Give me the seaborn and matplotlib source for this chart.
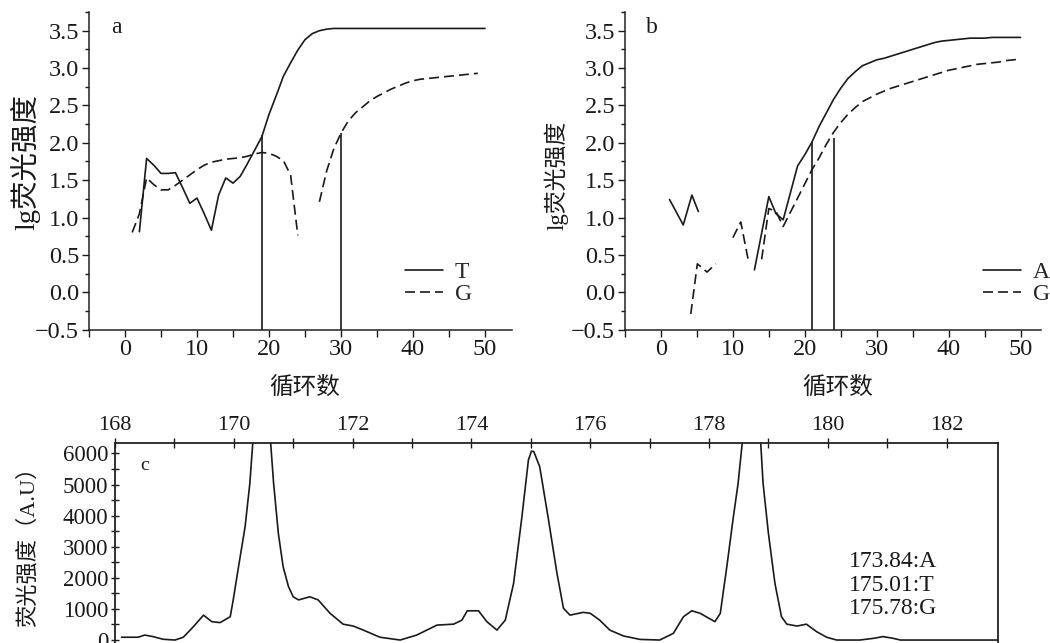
import numpy as np
import pandas as pd
import matplotlib
matplotlib.use("Agg")
import matplotlib.pyplot as plt
import seaborn as sns
from matplotlib.ticker import MultipleLocator

# ---------------- data: panel a ----------------
a_T_cycle = list(range(2, 51))
a_T_val = [0.81, 1.79, 1.70, 1.59, 1.59, 1.60, 1.40, 1.19, 1.26, 1.05,
           0.83, 1.30, 1.53, 1.46, 1.55, 1.72, 1.90, 2.08, 2.38, 2.63,
           2.89, 3.07, 3.24, 3.38, 3.46, 3.50, 3.52, 3.53, 3.53, 3.53,
           3.53, 3.53, 3.53, 3.53, 3.53, 3.53, 3.53, 3.53, 3.53, 3.53,
           3.53, 3.53, 3.53, 3.53, 3.53, 3.53, 3.53, 3.53, 3.53]
a_G1_cycle = list(range(1, 25))
a_G1_val = [0.80, 1.05, 1.53, 1.44, 1.37, 1.37, 1.43, 1.50, 1.57, 1.64,
            1.70, 1.74, 1.76, 1.78, 1.79, 1.80, 1.82, 1.85, 1.87, 1.86,
            1.82, 1.76, 1.57, 0.76]
a_G2_cycle = list(range(27, 50))
a_G2_val = [1.21, 1.62, 1.92, 2.13, 2.29, 2.40, 2.48, 2.56, 2.62, 2.67,
            2.72, 2.76, 2.80, 2.83, 2.85, 2.86, 2.87, 2.88, 2.89, 2.90,
            2.91, 2.92, 2.93]
a_ct_cycle = [19, 30]
a_ct_val = [2.10, 2.13]

# ---------------- data: panel b ----------------
b_A1_cycle = [1.2, 3.1, 4.3, 5.2]
b_A1_val = [1.24, 0.90, 1.30, 1.08]
b_A2_cycle = list(range(13, 51))
b_A2_val = [0.30, 0.79, 1.28, 1.05, 0.97, 1.33, 1.69, 1.84, 2.01, 2.22,
            2.40, 2.58, 2.73, 2.86, 2.95, 3.03, 3.07, 3.11, 3.13, 3.16,
            3.19, 3.22, 3.25, 3.28, 3.31, 3.34, 3.36, 3.37, 3.38, 3.39,
            3.40, 3.40, 3.40, 3.41, 3.41, 3.41, 3.41, 3.41]
b_G1_cycle = [4.15, 5.06, 6.4, 7.65]
b_G1_val = [-0.29, 0.38, 0.27, 0.38]
b_G2_cycle = [10.0, 11.1, 12.1]
b_G2_val = [0.73, 0.94, 0.45]
b_G3_cycle = list(range(14, 51))
b_G3_val = [0.44, 1.12, 1.08, 0.88, 1.07, 1.26, 1.45, 1.64, 1.80, 1.98,
            2.14, 2.27, 2.38, 2.47, 2.55, 2.60, 2.65, 2.69, 2.73, 2.76,
            2.79, 2.82, 2.85, 2.88, 2.91, 2.94, 2.97, 2.99, 3.01, 3.03,
            3.05, 3.06, 3.07, 3.08, 3.10, 3.11, 3.12]
b_ct_cycle = [21, 24]
b_ct_val = [2.01, 2.06]

# ---------------- data: panel c ----------------
c_size = [168.11, 168.39, 168.50, 168.64, 168.81, 169.01, 169.15, 169.32, 169.49, 169.63,
          169.77, 169.94, 169.99, 170.08, 170.19, 170.27, 170.32, 170.40, 170.47, 170.55,
          170.62, 170.67, 170.75, 170.83, 170.92, 171.00, 171.09, 171.28, 171.42, 171.62,
          171.84, 172.01, 172.18, 172.46, 172.80, 173.08, 173.42, 173.70, 173.84, 173.93,
          174.12, 174.26, 174.43, 174.57, 174.71, 174.85, 174.96, 175.01, 175.05, 175.15,
          175.29, 175.44, 175.55, 175.66, 175.88, 176.00, 176.16, 176.33, 176.56, 176.84,
          177.17, 177.40, 177.57, 177.71, 177.85, 178.10, 178.19, 178.30, 178.41, 178.49,
          178.56, 178.64, 178.71, 178.79, 178.87, 178.91, 179.00, 179.11, 179.22, 179.31,
          179.48, 179.64, 179.81, 179.98, 180.15, 180.54, 180.77, 180.93, 181.10, 181.22,
          182.86]
c_signal = [90, 90, 160, 110, 25, 0, 90, 430, 800, 590,
            560, 750, 1290, 2360, 3640, 5040, 6350, 8000, 8600, 8000,
            6350, 5040, 3430, 2360, 1720, 1390, 1290, 1390, 1290, 860,
            510, 450, 320, 90, 0, 160, 480, 510, 640, 940,
            940, 590, 320, 640, 1820, 3960, 5790, 6070, 6060, 5570,
            3960, 2150, 1020, 800, 890, 860, 640, 320, 130, 20,
            0, 215, 750, 940, 860, 590, 860, 2360, 3960, 5040,
            6350, 8000, 8600, 8000, 6350, 5040, 3430, 1820, 750, 510,
            450, 510, 270, 90, 0, 0, 55, 110, 55, 0,
            0]
c_notes = ["173.84:A", "175.01:T", "175.78:G"]

# ---------------- style ----------------
sns.set_theme(style="ticks")
SERIF = ["Liberation Serif", "Noto Sans CJK SC", "DejaVu Sans"]
CJK = ["Noto Sans CJK SC", "DejaVu Sans"]
plt.rcParams["font.family"] = SERIF
plt.rcParams["axes.unicode_minus"] = True
plt.rcParams["lines.dashed_pattern"] = [6.0, 3.0]
plt.rcParams["axes.edgecolor"] = "#222222"

W, H = 1050, 643
fig = plt.figure(figsize=(W / 100, H / 100), dpi=100)


def px_axes(l, t, r, b):
    return fig.add_axes([l / W, 1 - b / H, (r - l) / W, (b - t) / H])


axa = px_axes(89, 12, 512, 329.6)
axb = px_axes(625, 12, 1041, 329.6)
axc = px_axes(115, 442.7, 997.7, 644.7)

LW = 1.2
INK = "#1a1a1a"


def seg_frame(segments):
    rows = []
    for k, (xs, ys) in enumerate(segments):
        for x, y in zip(xs, ys):
            rows.append({"cycle": x, "val": y, "seg": k})
    return pd.DataFrame(rows)


def draw_series(ax, segments, label, dashed):
    df = seg_frame(segments)
    sns.lineplot(data=df, x="cycle", y="val", units="seg", estimator=None,
                 sort=False, color=INK, lw=LW, ls="--" if dashed else "-",
                 label=label, ax=ax)


def style_qpcr(ax, letter, leg_x, ylab_x, ylab_y, ylab_size):
    ax.set_xlim(-5, 53.75 if ax is axa else 52.85)
    ax.set_ylim(-0.5, 3.75)
    ax.xaxis.set_major_locator(MultipleLocator(10))
    ax.xaxis.set_minor_locator(MultipleLocator(5))
    ax.yaxis.set_major_locator(MultipleLocator(0.5))
    ax.yaxis.set_minor_locator(MultipleLocator(0.25))
    ax.set_xticks([0, 10, 20, 30, 40, 50])
    ax.tick_params(axis="x", which="both", direction="out", length=5,
                   width=1.0, labelsize=17.5, pad=1.5, colors=INK)
    ax.tick_params(axis="y", which="major", direction="out", length=5,
                   width=1.0, labelsize=17.5, pad=2, colors=INK)
    ax.tick_params(axis="y", which="minor", direction="out", length=3,
                   width=1.0, colors=INK)
    for s in ["top", "right"]:
        ax.spines[s].set_visible(False)
    for s in ["left", "bottom"]:
        ax.spines[s].set_linewidth(1.1)
    ax.set_xlabel("循环数", fontsize=17, family=CJK, color=INK)
    ax.xaxis.set_label_coords((305 - 89) / 423, -0.145)
    ax.xaxis.label.set_va("top")
    ax.set_ylabel("")
    ax.text(ylab_x, ylab_y, "lg荧光强度", transform=ax.transAxes, rotation=90,
            ha="center", va="center", fontsize=ylab_size, family=SERIF, color=INK)
    ax.text(0.064, 0.95, letter, transform=ax.transAxes, ha="center",
            va="center", fontsize=17, color=INK)
    handles, labels = ax.get_legend_handles_labels()
    uniq = dict(zip(labels, handles))
    ax.legend(list(uniq.values()), list(uniq.keys()), loc="upper left",
              bbox_to_anchor=(leg_x, 0.215), frameon=False, fontsize=17,
              borderpad=0, borderaxespad=0, handlelength=1.6,
              handletextpad=0.5, labelspacing=0.02)


# ---- panel a ----
draw_series(axa, [(a_T_cycle, a_T_val)], "T", False)
draw_series(axa, [(a_G1_cycle, a_G1_val), (a_G2_cycle, a_G2_val)], "G", True)
axa.vlines(a_ct_cycle, -0.5, a_ct_val, color=INK, lw=LW)
style_qpcr(axa, "a", 0.747, (25 - 89) / 423, (329.6 - 162) / 317.6, 20.5)

# ---- panel b ----
draw_series(axb, [(b_A1_cycle, b_A1_val), (b_A2_cycle, b_A2_val)], "A", False)
draw_series(axb, [(b_G1_cycle, b_G1_val), (b_G2_cycle, b_G2_val),
                  (b_G3_cycle, b_G3_val)], "G", True)
axb.vlines(b_ct_cycle, -0.5, b_ct_val, color=INK, lw=LW)
style_qpcr(axb, "b", 0.8606, (556 - 625) / 416, (329.6 - 175) / 317.6, 16.5)

# ---- panel c ----
dfc = pd.DataFrame({"size": c_size, "signal": c_signal})
sns.lineplot(data=dfc, x="size", y="signal", sort=False, estimator=None,
             color=INK, lw=LW, ax=axc)
axc.set_xlim(168, 182.86)
axc.set_ylim(-150, 6344)
axc.xaxis.tick_top()
axc.xaxis.set_label_position("top")
axc.xaxis.set_major_locator(MultipleLocator(2))
axc.xaxis.set_minor_locator(MultipleLocator(1))
axc.yaxis.set_major_locator(MultipleLocator(1000))
axc.yaxis.set_minor_locator(MultipleLocator(500))
axc.set_yticks([0, 1000, 2000, 3000, 4000, 5000, 6000])
axc.tick_params(axis="x", which="both", direction="inout", length=7,
                width=1.0, labelsize=16, pad=2, colors=INK,
                top=True, bottom=False, labeltop=True, labelbottom=False)
axc.tick_params(axis="y", which="both", direction="inout", length=6,
                width=1.0, labelsize=16.5, pad=2, colors=INK)
for s in ["left", "top", "right", "bottom"]:
    axc.spines[s].set_linewidth(1.3)
axc.set_xlabel("")
axc.set_ylabel("")
axc.text((28 - 115) / 882.7, (644.7 - 541) / 202, "荧光强度（A.U）",
         transform=axc.transAxes, rotation=90, ha="center", va="center",
         fontsize=16, family=SERIF, color=INK)
axc.text(0.034, 0.886, "c", transform=axc.transAxes, ha="center",
         va="center", fontsize=14, color=INK)
axc.text(0.8316, 0.2955, "\n".join(c_notes), transform=axc.transAxes,
         ha="left", va="center", fontsize=17, linespacing=1.15, color=INK)
leg = axc.get_legend()
if leg is not None:
    leg.remove()

fig.savefig("out.png", dpi=100)
